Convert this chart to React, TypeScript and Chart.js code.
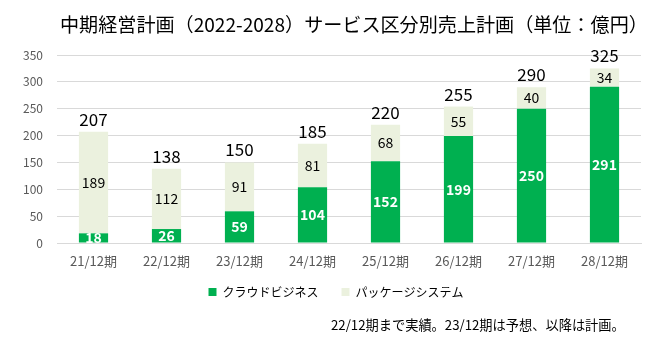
import React, { useEffect, useRef } from "react";
import { Chart, registerables } from "chart.js";

Chart.register(...registerables);

const categories = ["21/12期", "22/12期", "23/12期", "24/12期", "25/12期", "26/12期", "27/12期", "28/12期"];
const cloudValues = [18, 26, 59, 104, 152, 199, 250, 291];
const packageValues = [189, 112, 91, 81, 68, 55, 40, 34];
const totalValues = [207, 138, 150, 185, 220, 255, 290, 325];
const yTicks = [0, 50, 100, 150, 200, 250, 300, 350];

const titleText = "中期経営計画（2022-2028）サービス区分別売上計画（単位：億円）";
const noteText = "22/12期まで実績。23/12期は予想、以降は計画。";
const seriesNames = ["クラウドビジネス", "パッケージシステム"];

const FONT = '"Noto Sans CJK JP", "Noto Sans", sans-serif';
const GREEN = "#00B050";
const PALE = "#EBF1DE";

function fitFont(ctx: any, text: string, base: number, target: number, lo: number, hi: number) {
  ctx.font = `${base}px ${FONT}`;
  const w = ctx.measureText(text).width;
  const size = Math.max(lo, Math.min(hi, (base * target) / w));
  return `${size.toFixed(2)}px ${FONT}`;
}

const labelPlugin = {
  id: "customLabels",
  afterLayout(chart: any) {
    const lg = chart.legend;
    if (lg) {
      lg.left += 31;
      lg.top -= 10;
      lg.bottom -= 10;
    }
  },
  afterDatasetsDraw(chart: any) {
    const ctx = chart.ctx;
    ctx.save();
    ctx.textAlign = "center";
    ctx.textBaseline = "middle";
    const m0 = chart.getDatasetMeta(0);
    const m1 = chart.getDatasetMeta(1);
    m0.data.forEach((bar: any, i: number) => {
      ctx.font = `bold 14px ${FONT}`;
      ctx.fillStyle = "#FFFFFF";
      ctx.fillText(String(cloudValues[i]), bar.x, (bar.y + bar.base) / 2);
    });
    m1.data.forEach((bar: any, i: number) => {
      ctx.font = `14px ${FONT}`;
      ctx.fillStyle = "#000000";
      ctx.fillText(String(packageValues[i]), bar.x, (bar.y + bar.base) / 2);
      ctx.font = `17px ${FONT}`;
      ctx.textBaseline = "bottom";
      ctx.fillText(String(totalValues[i]), bar.x, bar.y - 4);
      ctx.textBaseline = "middle";
    });
    ctx.restore();
  },
  afterDraw(chart: any) {
    const ctx = chart.ctx;
    ctx.save();
    ctx.fillStyle = "#000000";
    ctx.textAlign = "left";
    ctx.textBaseline = "middle";
    ctx.font = fitFont(ctx, titleText, 19, 588, 17, 20);
    ctx.fillText(titleText, 60, 25);
    ctx.font = fitFont(ctx, noteText, 13, 294, 12, 14);
    ctx.fillText(noteText, 331, 325);
    ctx.restore();
  },
};

export default function App() {
  const ref = useRef<HTMLCanvasElement | null>(null);
  useEffect(() => {
    if (!ref.current) return;
    const chart = new Chart(ref.current, {
      type: "bar",
      data: {
        labels: categories,
        datasets: [
          { label: seriesNames[0], data: cloudValues, backgroundColor: GREEN, borderWidth: 0 },
          { label: seriesNames[1], data: packageValues, backgroundColor: PALE, borderWidth: 0 },
        ],
      },
      options: {
        animation: false,
        responsive: true,
        maintainAspectRatio: false,
        datasets: { bar: { categoryPercentage: 1, barPercentage: 0.4 } },
        layout: { padding: { top: 55, right: 13, bottom: 30, left: 0 } },
        scales: {
          x: {
            stacked: true,
            grid: { display: false, drawTicks: false },
            border: { color: "#D9D9D9" },
            ticks: { color: "#595959", font: { family: FONT, size: 13 }, padding: 10, maxRotation: 0 },
            afterFit(scale: any) { scale.height = 30; },
          },
          y: {
            stacked: true,
            min: 0,
            max: 350,
            afterBuildTicks(scale: any) { scale.ticks = yTicks.map((v) => ({ value: v })); },
            grid: { color: "#D9D9D9", drawTicks: false },
            border: { display: false },
            ticks: { color: "#595959", font: { family: FONT, size: 12 }, padding: 14 },
            afterFit(scale: any) { scale.width = 57; },
          },
        },
        plugins: {
          legend: {
            position: "bottom",
            labels: { boxWidth: 8, boxHeight: 8, padding: 23, color: "#000000", font: { family: FONT, size: 12 } },
          },
          title: { display: false },
          tooltip: { enabled: false },
        },
      },
      plugins: [labelPlugin],
    });
    return () => chart.destroy();
  }, []);
  return (
    <div style={{ position: "fixed", left: 0, top: 0, width: 654, height: 348, background: "#FFFFFF" }}>
      <canvas ref={ref} />
    </div>
  );
}
